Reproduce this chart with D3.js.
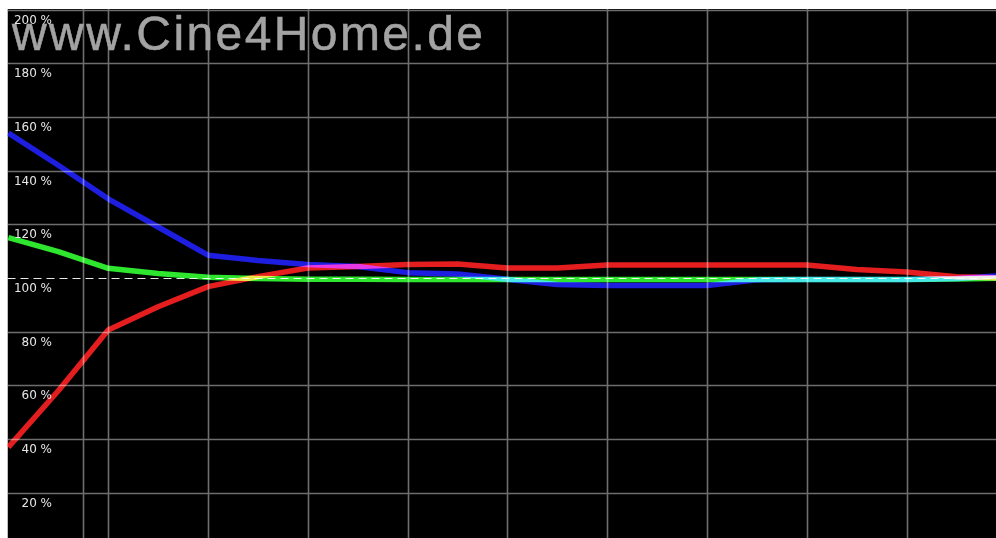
<!DOCTYPE html>
<html>
<head>
<meta charset="utf-8">
<script src="https://cdn.jsdelivr.net/npm/d3@7"></script>
<style>
    body { margin: 0; background: #fff; }
    svg { display: block; }
</style>
</head>
<body>
<svg id="chart" width="996" height="538"></svg>
<script>
// IRE steps on the x axis
let ire = [0, 5, 10, 15, 20, 25, 30, 35, 40, 45, 50, 55, 60, 65, 70, 75, 80, 85, 90, 95, 100];

let red = [37, 58, 80.6, 89.3, 96.8, 100.5, 103.7, 104.3, 105, 105.2, 103.7, 103.7, 104.8, 104.8, 104.8, 104.8, 104.8, 103.2, 102.2, 100.5, 100];
let green = [115, 109.8, 103.6, 101.7, 100.3, 99.8, 99.5, 99.5, 99.4, 99.4, 99.4, 99.4, 99.4, 99.4, 99.4, 99.4, 99.4, 99.4, 99.4, 99.6, 100];
let blue = [154, 142, 129.5, 119, 108.5, 106.5, 105, 104.3, 102, 101.5, 99.5, 97.6, 97.2, 97.2, 97.2, 99.3, 99.4, 99.4, 99.4, 99.8, 101];

let yTicks = [20, 40, 60, 80, 100, 120, 140, 160, 180, 200];
let xGrid = [7.5, 10, 20, 30, 40, 50, 60, 70, 80, 90];

let svg = d3.select('#chart');
let svgDim = {'w': +svg.attr('width'), 'h': +svg.attr('height')};
let plot = {'l': 7.5, 't': 9, 'r': svgDim['w'], 'b': svgDim['h']};

let xScale = d3.scaleLinear().domain([0, 100]).range([8.4, 1006.4]);
let yScale = d3.scaleLinear().domain([0, 200]).range([546.5, 9.5]);

svg.append('clipPath').attr('id', 'plotClip')
    .append('rect')
    .attr('x', plot['l']).attr('y', plot['t'])
    .attr('width', plot['r'] - plot['l']).attr('height', plot['b'] - plot['t']);

let g = svg.append('g')
    .attr('clip-path', 'url(#plotClip)')
    .style('isolation', 'isolate');

g.append('rect')
    .attr('x', plot['l']).attr('y', plot['t'])
    .attr('width', plot['r'] - plot['l']).attr('height', plot['b'] - plot['t'])
    .attr('fill', '#000');

// grid ----------------------------------------------------------------------
g.selectAll('.hgrid').data(yTicks.filter((d) => d !== 100)).enter()
    .append('line')
    .attr('class', 'hgrid')
    .attr('x1', plot['l']).attr('x2', plot['r'])
    .attr('y1', (d) => Math.round(yScale(d)) + 0.5)
    .attr('y2', (d) => Math.round(yScale(d)) + 0.5)
    .attr('stroke', '#6e6e6e')
    .attr('stroke-width', 1.6);

g.selectAll('.vgrid').data(xGrid).enter()
    .append('line')
    .attr('class', 'vgrid')
    .attr('x1', (d) => Math.round(xScale(d)) + 0.5)
    .attr('x2', (d) => Math.round(xScale(d)) + 0.5)
    .attr('y1', plot['t']).attr('y2', plot['b'])
    .attr('stroke', '#6e6e6e')
    .attr('stroke-width', 1.6);

// reference line at 100 %
g.append('line')
    .attr('x1', plot['l']).attr('x2', plot['r'])
    .attr('y1', Math.round(yScale(100)) + 0.5)
    .attr('y2', Math.round(yScale(100)) + 0.5)
    .attr('stroke', '#e8e8e8')
    .attr('stroke-width', 1.2)
    .attr('stroke-dasharray', '8,5');

// watermark
g.append('text')
    .attr('x', 12).attr('y', 50)
    .attr('font-family', 'Liberation Sans, Arial, sans-serif')
    .attr('font-size', 48)
    .attr('fill', '#a3a3a3')
    .attr('stroke', '#a3a3a3')
    .attr('stroke-width', 0.5)
    .attr('textLength', 471)
    .text('www.Cine4Home.de');

// lines ---------------------------------------------------------------------
let line = d3.line()
    .x((d) => xScale(d[0]))
    .y((d) => yScale(d[1]));

let series = [
    {'name': 'red', 'values': red, 'color': '#e41e1e'},
    {'name': 'green', 'values': green, 'color': '#2ee62e'},
    {'name': 'blue', 'values': blue, 'color': '#1e1ee0'}
];

series.map((s) => {
    let pts = ire.map((v, i) => [v, s['values'][i]]);
    g.append('path')
        .data([pts])
        .attr('class', 'line')
        .attr('fill', 'none')
        .attr('stroke', s['color'])
        .attr('stroke-width', 5.5)
        .attr('stroke-linejoin', 'round')
        .style('mix-blend-mode', 'screen')
        .attr('d', line);
});

// tick labels
g.selectAll('.ylabel').data(yTicks).enter()
    .append('text')
    .attr('class', 'ylabel')
    .attr('x', 52)
    .attr('y', (d) => yScale(d) + 14)
    .attr('text-anchor', 'end')
    .attr('font-family', 'DejaVu Sans')
    .attr('font-size', 12)
    .attr('fill', '#e6e6e6')
    .text((d) => d + ' %');
</script>
</body>
</html>
